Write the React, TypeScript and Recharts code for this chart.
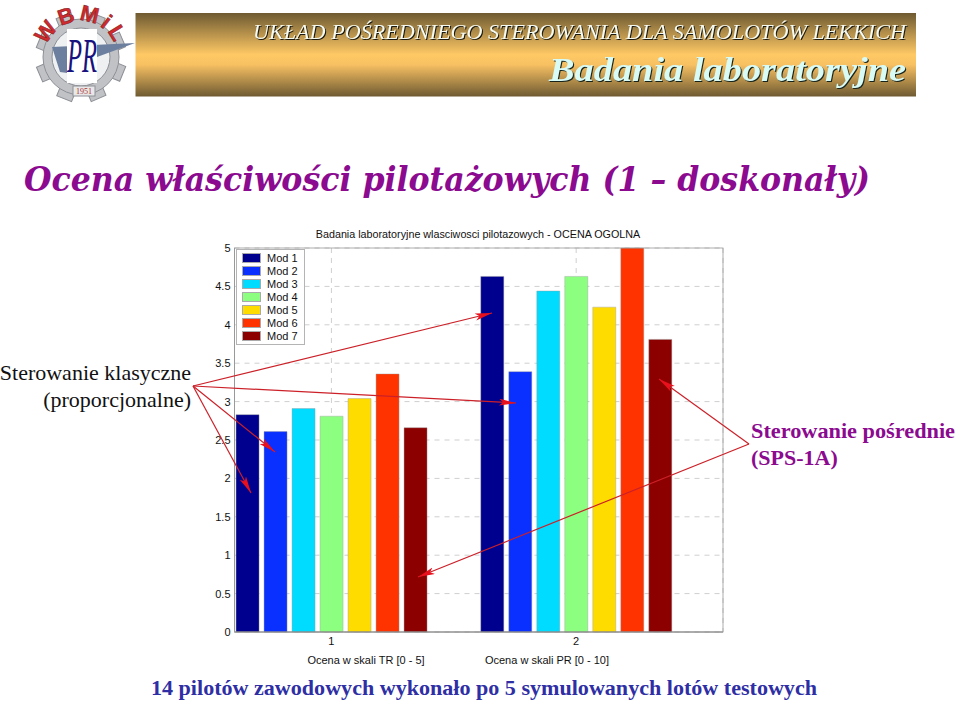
import React from "react";
import { BarChart, Bar, XAxis, YAxis, CartesianGrid, Legend } from "recharts";

const groups = [1, 2];
const yTicks = [0, 0.5, 1, 1.5, 2, 2.5, 3, 3.5, 4, 4.5, 5];
const modNames = ["Mod 1", "Mod 2", "Mod 3", "Mod 4", "Mod 5", "Mod 6", "Mod 7"];
const modColors = ["#00008f", "#0a30ff", "#00dcff", "#8cff80", "#ffdc00", "#ff3300", "#8c0000"];

const mod1 = [2.83, 4.63];
const mod2 = [2.61, 3.39];
const mod3 = [2.91, 4.44];
const mod4 = [2.81, 4.63];
const mod5 = [3.04, 4.23];
const mod6 = [3.36, 5.0];
const mod7 = [2.66, 3.81];
const series = [mod1, mod2, mod3, mod4, mod5, mod6, mod7];

const chartData = groups.map((g, i) => {
  const row: Record<string, number> = { x: g };
  modNames.forEach((name, s) => {
    row[name] = series[s][i];
  });
  return row;
});

const serif = "'Liberation Serif', serif";
const sans = "'Liberation Sans', sans-serif";
const purple = "#8b0a8f";

const MatlabLegend = ({ payload }: any) => (
  <div
    style={{
      width: 69,
      height: 96,
      boxSizing: "border-box",
      background: "#fff",
      border: "1px solid #b4b4b4",
      paddingTop: 1,
    }}
  >
    {(payload || []).map((p: any) => (
      <div key={p.value} style={{ display: "flex", alignItems: "center", height: 13.1 }}>
        <span style={{ width: 19, height: 10, marginLeft: 4.5, background: p.color, outline: "1px solid #aaa", outlineOffset: -1 }} />
        <span style={{ marginLeft: 6.5, font: `11px ${sans}`, color: "#111" }}>{p.value}</span>
      </div>
    ))}
  </div>
);

const Arrow = ({ x1, y1, x2, y2 }: { x1: number; y1: number; x2: number; y2: number }) => (
  <line x1={x1} y1={y1} x2={x2} y2={y2} stroke="#cc2028" strokeWidth={1.2} markerEnd="url(#redHead)" />
);

const Logo = () => {
  const teeth = [0, 45, 90, 135, 180, 225, 270, 315];
  return (
    <g>
      {teeth.map((a) => (
        <rect key={a} x={73} y={12} width={16} height={12} fill="#c0c2c6" stroke="#8d9096" transform={`rotate(${a + 22} 81 57)`} />
      ))}
      <circle cx={81} cy={57} r={38} fill="#c0c2c6" stroke="#8d9096" />
      <circle cx={81} cy={57} r={29} fill="#eef0f2" stroke="#8d9096" />
      <polygon points="52,47 135,43 97,57 82,75 60,72" fill="#6d7f9e" />
      <rect x={67} y={29} width={30} height={54} fill="#fff" />
      <text x={67} y={72} textLength={30} lengthAdjust="spacingAndGlyphs" fontFamily={serif} fontStyle="italic" fontSize={48} fill="#17127e">
        PR
      </text>
      <path id="logoArc" d="M 45 57 A 36 36 0 0 1 117 57" fill="none" />
      <text fontFamily={sans} fontWeight="bold" fontSize={22} letterSpacing={3} fill="#cf2a2e" stroke="#7d1a1c" strokeWidth={0.5}>
        <textPath href="#logoArc" startOffset="50%" textAnchor="middle">
          WBMiL
        </textPath>
      </text>
      <rect x={73} y={86} width={22} height={10} fill="#e8e8e8" stroke="#8d9096" />
      <text x={84} y={94} textAnchor="middle" fontFamily={serif} fontSize={8} fill="#a33">
        1951
      </text>
    </g>
  );
};

export default function App() {
  return (
    <div style={{ position: "absolute", left: 0, top: 0, width: 959, height: 702, background: "#fff", overflow: "hidden" }}>
      <div style={{ position: "absolute", left: 0, top: 0 }}>
        <BarChart
          width={959}
          height={702}
          data={chartData}
          barSize={23}
          barGap={5}
          margin={{ top: 248, left: 194.5, right: 236, bottom: 40 }}
        >
          <CartesianGrid stroke="#cfcfcf" strokeDasharray="5 5" />
          <XAxis
            dataKey="x"
            type="number"
            domain={[0.604, 2.6]}
            ticks={groups}
            allowDataOverflow
            height={30}
            tickLine={false}
            tickSize={0}
            axisLine={{ stroke: "#777" }}
            tickMargin={5}
            tick={{ fontFamily: sans, fontSize: 11, fill: "#111" }}
          />
          <YAxis
            width={40}
            domain={[0, 5]}
            ticks={yTicks}
            interval={0}
            tickLine={false}
            tickSize={0}
            axisLine={{ stroke: "#999" }}
            tickMargin={4}
            tick={{ fontFamily: sans, fontSize: 11, fill: "#111" }}
          />
          <Legend
            layout="vertical"
            align="center"
            verticalAlign="middle"
            content={<MatlabLegend />}
            wrapperStyle={{ left: 236, top: 249, width: 69, height: 96 }}
          />
          {modNames.map((name, i) => (
            <Bar key={name} dataKey={name} fill={modColors[i]} stroke="#9a9a9a" strokeWidth={0.4} isAnimationActive={false} />
          ))}
        </BarChart>
      </div>

      <svg width={959} height={702} style={{ position: "absolute", left: 0, top: 0, pointerEvents: "none" }}>
        <defs>
          <linearGradient id="band" x1="0" y1="0" x2="0" y2="1">
            <stop offset="0" stopColor="#6e5a32" />
            <stop offset="0.5" stopColor="#ffc965" />
            <stop offset="0.62" stopColor="#f7c062" />
            <stop offset="1" stopColor="#6e5a32" />
          </linearGradient>
          <marker id="redHead" markerWidth="17" markerHeight="8" refX="17" refY="3.5" orient="auto" markerUnits="userSpaceOnUse">
            <path d="M0,0 L17,3.5 L0,7 L4,3.5 Z" fill="#e8101c" />
          </marker>
        </defs>

        <Logo />
        <rect x={135.5} y={13} width={780.5} height={83.5} fill="url(#band)" />
        <text
          x={253}
          y={39}
          textLength={653}
          lengthAdjust="spacingAndGlyphs"
          fontFamily={serif}
          fontStyle="italic"
          fontSize={21}
          fill="#f6fbf2"
          style={{ filter: "drop-shadow(1px 1px 0 #1c1a10)" }}
        >
          UKŁAD POŚREDNIEGO STEROWANIA DLA SAMOLOTÓW LEKKICH
        </text>
        <text
          x={549}
          y={81}
          textLength={357}
          lengthAdjust="spacingAndGlyphs"
          fontFamily={serif}
          fontStyle="italic"
          fontWeight="bold"
          fontSize={34}
          fill="#d9fbf6"
          style={{ filter: "drop-shadow(1.5px 1.5px 0 #16241c)" }}
        >
          Badania laboratoryjne
        </text>

        <text x={24} y={191} textLength={846} lengthAdjust="spacingAndGlyphs" fontFamily="'DejaVu Serif', serif" fontStyle="italic" fontWeight="bold" fontSize={33} fill={purple}>
          Ocena właściwości pilotażowych (1 – doskonały)
        </text>

        <text x={478} y={238} textAnchor="middle" fontFamily={sans} fontSize={10.75} fill="#111">
          Badania laboratoryjne wlasciwosci pilotazowych - OCENA OGOLNA
        </text>
        <rect x={234.5} y={248} width={488.5} height={384} fill="none" stroke="#999" strokeWidth={0.8} />
        <text x={366} y={664} textAnchor="middle" fontFamily={sans} fontSize={11} fill="#111">
          Ocena w skali TR [0 - 5]
        </text>
        <text x={547} y={664} textAnchor="middle" fontFamily={sans} fontSize={11} fill="#111">
          Ocena w skali PR [0 - 10]
        </text>

        <text x={191} y={380} textAnchor="end" fontFamily={serif} fontSize={22} fill="#111">
          Sterowanie klasyczne
        </text>
        <text x={191} y={407} textAnchor="end" fontFamily={serif} fontSize={22} fill="#111">
          (proporcjonalne)
        </text>
        <text x={751} y={438} fontFamily={serif} fontWeight="bold" fontSize={22} textLength={204} lengthAdjust="spacingAndGlyphs" fill={purple}>
          Sterowanie pośrednie
        </text>
        <text x={751} y={465} fontFamily={serif} fontWeight="bold" fontSize={22} fill={purple}>
          (SPS-1A)
        </text>
        <text x={151} y={695} textLength={666} lengthAdjust="spacingAndGlyphs" fontFamily={serif} fontWeight="bold" fontSize={22} fill="#2f2fa5">
          14 pilotów zawodowych wykonało po 5 symulowanych lotów testowych
        </text>

        <Arrow x1={193} y1={386} x2={492} y2={313} />
        <Arrow x1={193} y1={386} x2={516} y2={403} />
        <Arrow x1={193} y1={386} x2={275} y2={452} />
        <Arrow x1={193} y1={386} x2={251} y2={493} />
        <Arrow x1={749} y1={444} x2={659} y2={379} />
        <Arrow x1={749} y1={444} x2={418} y2={577} />
      </svg>
    </div>
  );
}
